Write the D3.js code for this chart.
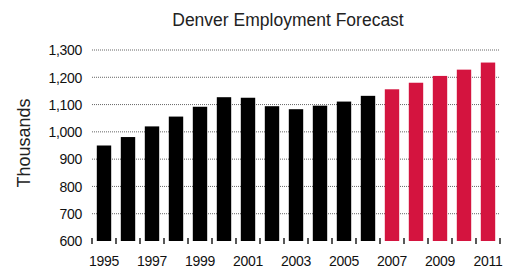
<!DOCTYPE html>
<html>
<head>
<meta charset="utf-8">
<script src="https://cdn.jsdelivr.net/npm/d3@7"></script>
<style>
  body { margin: 0; background: #fff; }
  text { font-family: "Liberation Sans", Arial, sans-serif; fill: #111; }
</style>
</head>
<body>
<script>
// data
var years = d3.range(1995, 2012)
var employment = [950, 981, 1020, 1056, 1092, 1127, 1125, 1094, 1083, 1096, 1111, 1132, 1156, 1180, 1205, 1228, 1254]
var forecastFrom = 2007
var yTicks = [600, 700, 800, 900, 1000, 1100, 1200, 1300]
var xLabels = [1995, 1997, 1999, 2001, 2003, 2005, 2007, 2009, 2011]

var W = 515, H = 272
var svg = d3.select('body').append('svg')
	.attr('width', W)
	.attr('height', H)

var x = d3.scaleBand()
	.domain(years)
	.range([92, 500])
	.paddingInner(0.4)
	.paddingOuter(0.2)

var y = d3.scaleLinear()
	.domain([600, 1300])
	.range([241, 50])

// title
svg.append('text')
	.attr('x', 288)
	.attr('y', 26)
	.attr('text-anchor', 'middle')
	.style('font-size', '17.5px')
	.style('fill', '#222')
	.text('Denver Employment Forecast')

// y label
svg.append('text')
	.attr('transform', 'translate(30,143) rotate(-90)')
	.attr('text-anchor', 'middle')
	.style('font-size', '18px')
	.style('fill', '#222')
	.text('Thousands')

// gridlines (behind bars)
svg.append('g').selectAll('line')
	.data(yTicks.filter(d => d > 600))
	.join('line')
	.attr('x1', 92)
	.attr('x2', 500)
	.attr('y1', d => y(d))
	.attr('y2', d => y(d))
	.attr('stroke', '#666')
	.attr('stroke-width', 1)
	.attr('stroke-dasharray', '1,1')

// y tick labels
svg.append('g').selectAll('text')
	.data(yTicks)
	.join('text')
	.attr('x', 82)
	.attr('y', d => y(d))
	.attr('dy', '0.38em')
	.attr('text-anchor', 'end')
	.style('font-size', '14px')
	.style('letter-spacing', '-0.3px')
	.text(d => d3.format(',')(d))

// bars
svg.append('g').selectAll('rect')
	.data(years)
	.join('rect')
	.attr('x', d => x(d))
	.attr('width', x.bandwidth())
	.attr('y', (d, i) => y(employment[i]))
	.attr('height', (d, i) => y(600) - y(employment[i]))
	.attr('fill', d => d >= forecastFrom ? '#d4143f' : '#000')

// x ticks at band edges
var edges = years.map(d => x(d) - x.step() * x.paddingOuter())
edges.push(x.range()[1])
svg.append('g').selectAll('line')
	.data(edges)
	.join('line')
	.attr('x1', d => d)
	.attr('x2', d => d)
	.attr('y1', y(600) - 3)
	.attr('y2', y(600) + 3)
	.attr('stroke', '#222')
	.attr('stroke-width', 1.5)

// x labels
svg.append('g').selectAll('text')
	.data(xLabels)
	.join('text')
	.attr('x', d => x(d) + x.bandwidth() / 2)
	.attr('y', 266)
	.attr('text-anchor', 'middle')
	.style('font-size', '14px')
	.style('letter-spacing', '-0.3px')
	.text(d => d)
</script>
</body>
</html>
